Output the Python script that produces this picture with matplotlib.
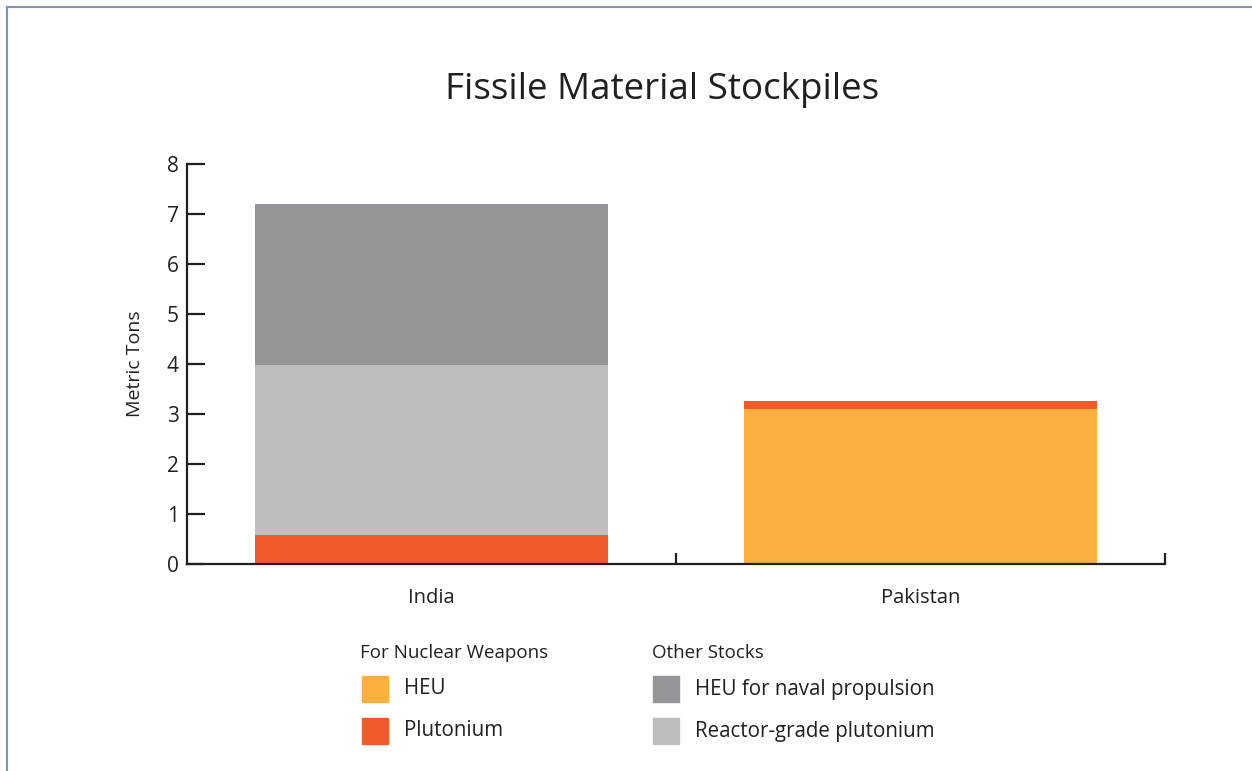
import matplotlib.pyplot as plt
from matplotlib.patches import Rectangle
from matplotlib.lines import Line2D

plt.rcParams['font.family'] = ['Open Sans', 'DejaVu Sans']

# data (metric tons)
countries = ["India", "Pakistan"]
weapons_heu = [0.0, 3.1]
weapons_plutonium = [0.58, 0.16]
reactor_plutonium = [3.4, 0.0]
naval_heu = [3.22, 0.0]

legend_groups = ["For Nuclear Weapons", "Other Stocks"]
legend_left = ["HEU", "Plutonium"]
legend_right = ["HEU for naval propulsion", "Reactor-grade plutonium"]

c_heu = "#FBB040"
c_pu = "#F15A2B"
c_naval = "#939598"
c_reactor = "#BCBEC0"
ink = "#231F20"

fig = plt.figure(figsize=(12.52, 7.71), dpi=100)
ax = fig.add_axes([187/1252, 1-564/771, 978/1252, 400/771])

x = list(range(len(countries)))
w = 0.72
# stack order: weapons HEU, weapons plutonium, reactor-grade, naval
bottom = [0.0] * len(countries)
for vals, col in [(weapons_heu, c_heu), (weapons_plutonium, c_pu),
                  (reactor_plutonium, c_reactor), (naval_heu, c_naval)]:
    ax.bar(x, vals, width=w, bottom=bottom, color=col, zorder=2)
    bottom = [b + v for b, v in zip(bottom, vals)]

ax.set_xlim(-0.5, 1.5)
ax.set_ylim(0, 8)
ax.set_yticks(range(0, 9))
ax.set_xticks(x)
ax.set_xticklabels(countries)
ax.set_xticks([0.5, 1.5], minor=True)

for s in ["top", "right"]:
    ax.spines[s].set_visible(False)
for s in ["left", "bottom"]:
    ax.spines[s].set_color(ink)
    ax.spines[s].set_linewidth(1.6)

ax.tick_params(axis="y", direction="in", length=13, width=1.6, color=ink,
               labelsize=15, labelcolor=ink, pad=6)
ax.tick_params(axis="x", which="major", length=0, labelsize=14.5, labelcolor=ink, pad=17.5)
ax.tick_params(axis="x", which="minor", direction="in", length=8, width=1.6, color=ink)
ax.set_ylabel("Metric Tons", fontsize=14, color=ink, labelpad=16)

fig.text(662/1252, 1-90/771, "Fissile Material Stockpiles", fontsize=26.5,
         color=ink, ha="center", va="center")

# legend drawn by hand
def fx(px): return px/1252
def fy(py): return 1-py/771

fig.text(fx(360), fy(653), legend_groups[0], fontsize=13.5, color=ink, va="center")
fig.text(fx(652), fy(653), legend_groups[1], fontsize=13.5, color=ink, va="center")
for i, (lab, col) in enumerate(zip(legend_left, [c_heu, c_pu])):
    yc = 689 + i*42
    fig.patches.append(Rectangle((fx(362), fy(yc+13)), 26/1252, 26/771,
                                 transform=fig.transFigure, color=col))
    fig.text(fx(404), fy(yc), lab, fontsize=14.8, color=ink, va="center")
for i, (lab, col) in enumerate(zip(legend_right, [c_naval, c_reactor])):
    yc = 689 + i*42
    fig.patches.append(Rectangle((fx(653), fy(yc+13)), 26/1252, 26/771,
                                 transform=fig.transFigure, color=col))
    fig.text(fx(695), fy(yc), lab, fontsize=14.8, color=ink, va="center")

# frame lines at top and left of picture
fig.add_artist(Line2D([fx(7), 1], [fy(7), fy(7)], color="#8890A8", lw=1.5))
fig.add_artist(Line2D([fx(7), fx(7)], [fy(7), 0], color="#8890A8", lw=1.5))

fig.savefig("out.png", dpi=100)
